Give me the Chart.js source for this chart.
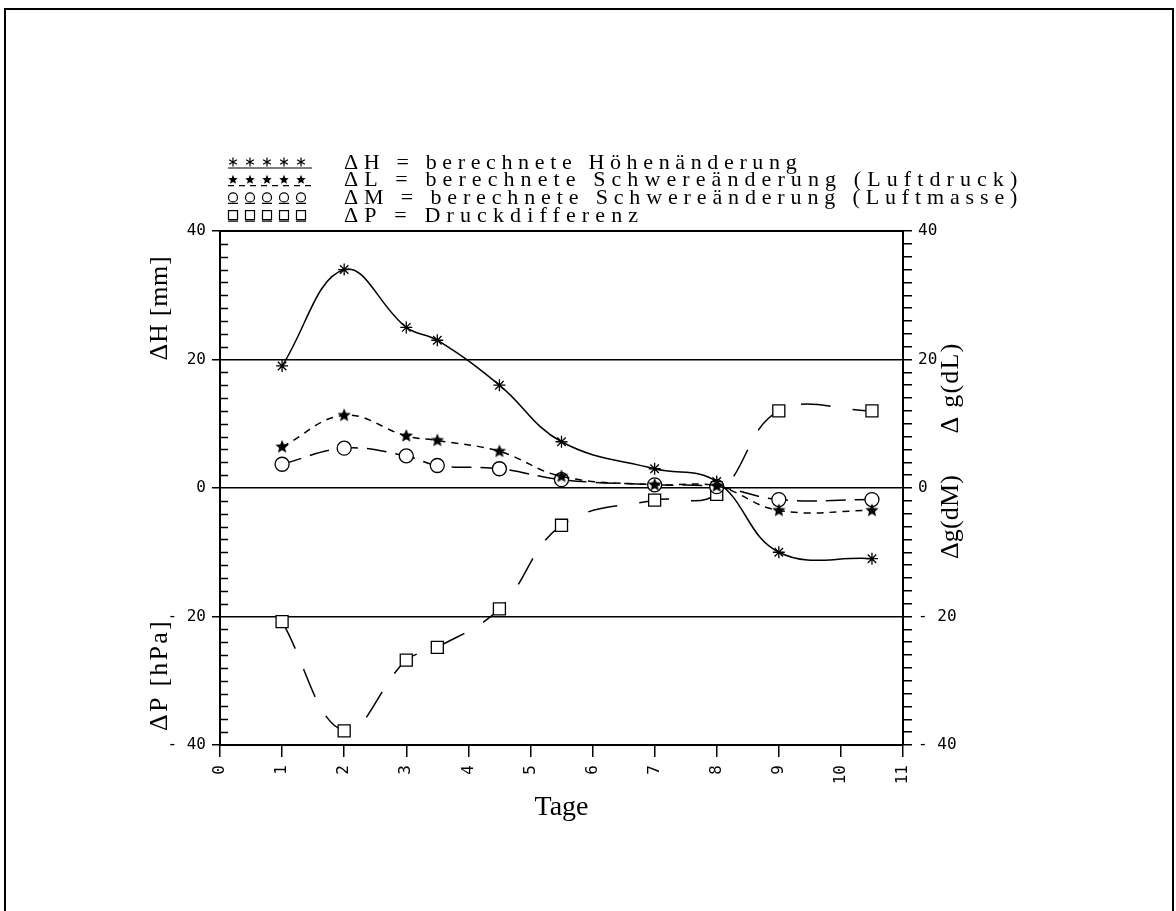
<!DOCTYPE html>
<html>
<head>
<meta charset="utf-8">
<script src="https://cdn.jsdelivr.net/npm/chart.js@4"></script>
<style>
  html, body { margin: 0; padding: 0; background: #fff; }
  #wrap { width: 1176px; height: 911px; }
</style>
</head>
<body>
<div id="wrap"><canvas id="myChart" width="1176" height="911"></canvas></div>
<script>
// values
const days = [1, 2, 3, 3.5, 4.5, 5.5, 7, 8, 9, 10.5];
const dH = [19, 34, 25, 23, 16, 7.2, 3, 1, -10, -11];
const dL = [6.4, 11.3, 8.1, 7.4, 5.7, 1.8, 0.5, 0.3, -3.5, -3.5];
const dM = [3.7, 6.2, 5.0, 3.5, 3.0, 1.3, 0.5, 0.2, -1.8, -1.8];
const dP = [-20.8, -37.8, -26.8, -24.8, -18.8, -5.8, -1.9, -1, 12, 12];

const legendLabels = [
  "ΔH = berechnete Höhenänderung",
  "ΔL = berechnete Schwereänderung (Luftdruck)",
  "ΔM = berechnete Schwereänderung (Luftmasse)",
  "ΔP = Druckdifferenz",
];
const leftTitles = ["ΔH [mm]", "ΔP [hPa]"];
const rightTitles = ["Δ g(dL)", "Δg(dM)"];
const xTitle = "Tage";

const dashes = [[], [7, 6], [20, 9], [30, 22]];
const serif = "'Liberation Serif', 'DejaVu Serif', serif";
const mono = "'DejaVu Sans Mono', monospace";

// filled five point star for ΔL
function makeStar(r) {
  const c = document.createElement("canvas");
  c.width = c.height = r * 2 + 2;
  const g = c.getContext("2d");
  drawStar(g, r + 1, r + 1, r);
  return c;
}
function drawStar(g, cx, cy, r) {
  g.beginPath();
  for (let i = 0; i < 10; i++) {
    const a = -Math.PI / 2 + (i * Math.PI) / 5;
    const rr = i % 2 === 0 ? r : r * 0.45;
    g.lineTo(cx + rr * Math.cos(a), cy + rr * Math.sin(a));
  }
  g.closePath();
  g.fillStyle = "#000";
  g.fill();
}
const starImg = makeStar(7);

function toXY(ys) {
  return days.map((d, i) => ({ x: d, y: ys[i] }));
}

function yLabel(v) {
  if (v % 20 !== 0) return "";
  return v < 0 ? "- " + -v : String(v);
}

// draw text stretched to a fixed character pitch, like the plotter font
function spacedText(ctx, text, x, y, pitch) {
  ctx.letterSpacing = "0px";
  const w = ctx.measureText(text).width;
  const n = [...text].length;
  const ls = Math.max(0, (n * pitch - w) / n);
  ctx.letterSpacing = ls.toFixed(2) + "px";
  ctx.fillText(text, x, y);
  ctx.letterSpacing = "0px";
}

function marker(ctx, kind, x, y) {
  ctx.save();
  ctx.strokeStyle = "#000";
  ctx.fillStyle = "#fff";
  ctx.lineWidth = 1.2;
  if (kind === 0) {
    ctx.beginPath();
    for (let i = 0; i < 3; i++) {
      const a = Math.PI / 2 + (i * Math.PI) / 3;
      ctx.moveTo(x - 4.5 * Math.cos(a), y - 4.5 * Math.sin(a));
      ctx.lineTo(x + 4.5 * Math.cos(a), y + 4.5 * Math.sin(a));
    }
    ctx.stroke();
  } else if (kind === 1) {
    drawStar(ctx, x, y, 5);
  } else if (kind === 2) {
    ctx.beginPath();
    ctx.arc(x, y, 4.5, 0, Math.PI * 2);
    ctx.fill();
    ctx.stroke();
  } else {
    ctx.fillRect(x - 4.5, y - 4.5, 9, 9);
    ctx.strokeRect(x - 4.5, y - 4.5, 9, 9);
  }
  ctx.restore();
}

const extras = {
  id: "extras",
  afterDraw(chart) {
    const ctx = chart.ctx;
    const a = chart.chartArea;
    const ys = chart.scales.y;
    ctx.save();
    ctx.strokeStyle = "#000";
    ctx.fillStyle = "#000";

    // outer frame of the figure
    ctx.lineWidth = 2;
    ctx.strokeRect(5, 9, 1168, 930);

    // top edge of plot box
    ctx.lineWidth = 2;
    ctx.beginPath();
    ctx.moveTo(a.left, a.top);
    ctx.lineTo(a.right, a.top);
    ctx.stroke();

    // minor ticks on the inside of the left axis
    ctx.lineWidth = 1.5;
    ctx.beginPath();
    for (let v = -38; v < 40; v += 2) {
      if (v % 20 === 0) continue;
      const py = Math.round(ys.getPixelForValue(v)) + 0.5;
      ctx.moveTo(a.left, py);
      ctx.lineTo(a.left + 8, py);
    }
    ctx.stroke();

    // legend
    ctx.font = "22px " + serif;
    ctx.textBaseline = "middle";
    ctx.textAlign = "left";
    legendLabels.forEach((lab, i) => {
      const ry = 162 + i * 17.7;
      ctx.save();
      ctx.lineWidth = 1.2;
      ctx.setLineDash(i === 0 ? [] : i === 1 ? [6, 5] : [10, 7]);
      ctx.beginPath();
      ctx.moveTo(228, ry + 6);
      ctx.lineTo(312, ry + 6);
      ctx.stroke();
      ctx.restore();
      for (let k = 0; k < 5; k++) marker(ctx, i, 233 + k * 17, ry);
      spacedText(ctx, lab, 344, ry + 1, 15.8);
    });

    // axis titles
    ctx.font = "26px " + serif;
    ctx.textAlign = "center";
    ctx.textBaseline = "middle";
    const drawRot = (text, x, y, pitch) => {
      ctx.save();
      ctx.translate(x, y);
      ctx.rotate(-Math.PI / 2);
      spacedText(ctx, text, 0, 0, pitch);
      ctx.restore();
    };
    drawRot(leftTitles[0], 160, 308, 15);
    drawRot(leftTitles[1], 160, 675, 14);
    drawRot(rightTitles[0], 951, 388, 13);
    drawRot(rightTitles[1], 951, 517, 14);

    ctx.font = "28px " + serif;
    ctx.fillText(xTitle, (a.left + a.right) / 2, 808);
    ctx.restore();
  },
};

const black = "#000";
const ctx = document.getElementById("myChart").getContext("2d");
const myChart = new Chart(ctx, {
  type: "line",
  data: {
    datasets: [
      {
        label: "ΔH",
        data: toXY(dH),
        borderColor: black,
        borderWidth: 1.5,
        borderDash: dashes[0],
        pointStyle: "star",
        pointRadius: 6,
        pointBorderWidth: 1.3,
        pointBorderColor: black,
        tension: 0.4,
      },
      {
        label: "ΔL",
        data: toXY(dL),
        borderColor: black,
        borderWidth: 1.5,
        borderDash: dashes[1],
        pointStyle: starImg,
        tension: 0.4,
      },
      {
        label: "ΔM",
        data: toXY(dM),
        borderColor: black,
        borderWidth: 1.5,
        borderDash: dashes[2],
        pointStyle: "circle",
        pointRadius: 7,
        pointBorderWidth: 1.3,
        pointBorderColor: black,
        pointBackgroundColor: "#fff",
        tension: 0.4,
      },
      {
        label: "ΔP",
        data: toXY(dP),
        borderColor: black,
        borderWidth: 1.5,
        borderDash: dashes[3],
        pointStyle: "rect",
        pointRadius: 8.5,
        pointBorderWidth: 1.3,
        pointBorderColor: black,
        pointBackgroundColor: "#fff",
        tension: 0.4,
      },
    ],
  },
  options: {
    responsive: false,
    animation: false,
    events: [],
    layout: { padding: { top: 231, left: 0, right: 0, bottom: 0 } },
    plugins: {
      legend: { display: false },
      tooltip: { enabled: false },
    },
    scales: {
      x: {
        type: "linear",
        min: 0,
        max: 11,
        ticks: {
          stepSize: 1,
          autoSkip: false,
          minRotation: 90,
          maxRotation: 90,
          color: black,
          padding: 8,
          font: { family: mono, size: 16 },
        },
        grid: {
          drawOnChartArea: false,
          tickLength: 12,
          tickColor: black,
          lineWidth: 1.5,
        },
        border: { color: black, width: 2 },
        afterFit: (s) => { s.height = 911 - 745; },
      },
      y: {
        position: "left",
        min: -40,
        max: 40,
        ticks: {
          stepSize: 2,
          autoSkip: false,
          color: black,
          padding: 6,
          font: { family: mono, size: 16 },
          callback: (v) => yLabel(v),
        },
        grid: {
          tickLength: 8,
          lineWidth: 1.5,
          color: (c) => (c.tick && c.tick.value % 20 === 0 ? black : "rgba(0,0,0,0)"),
          tickColor: (c) => (c.tick && c.tick.value % 20 === 0 ? black : "rgba(0,0,0,0)"),
        },
        border: { color: black, width: 2 },
        afterFit: (s) => { s.width = 220; },
      },
      y2: {
        position: "right",
        min: -40,
        max: 40,
        ticks: {
          stepSize: 2,
          autoSkip: false,
          color: black,
          padding: 6,
          font: { family: mono, size: 16 },
          callback: (v) => yLabel(v),
        },
        grid: {
          drawOnChartArea: false,
          tickLength: 9,
          lineWidth: 1.5,
          tickColor: black,
        },
        border: { color: black, width: 2 },
        afterFit: (s) => { s.width = 1176 - 903; },
      },
    },
  },
  plugins: [extras],
});
</script>
</body>
</html>
